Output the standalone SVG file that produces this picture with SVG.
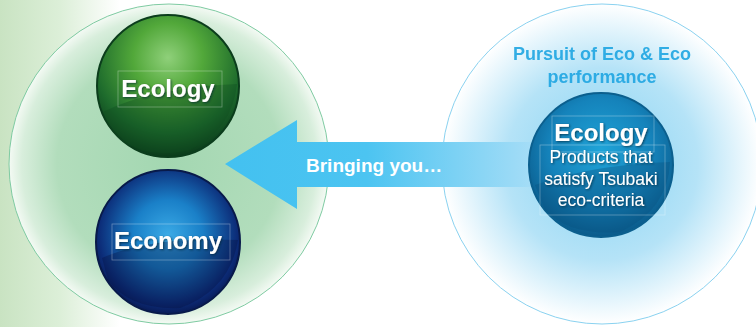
<svg xmlns="http://www.w3.org/2000/svg" width="756" height="327" viewBox="0 0 756 327">
<defs>
<linearGradient id="bg" x1="0" y1="0" x2="1" y2="0">
<stop offset="0" stop-color="#c9e3c2"/>
<stop offset="0.2" stop-color="#dcefd8"/>
<stop offset="0.4" stop-color="#ffffff"/>
</linearGradient>
<radialGradient id="leftBig" cx="0.5" cy="0.5" r="0.5">
<stop offset="0" stop-color="#a3d7b1"/>
<stop offset="0.7" stop-color="#b2ddbc"/>
<stop offset="0.92" stop-color="#d8eedc"/>
<stop offset="1" stop-color="#f4faf4"/>
</radialGradient>
<radialGradient id="rightBig" cx="0.5" cy="0.5" r="0.5">
<stop offset="0" stop-color="#86d3f3"/>
<stop offset="0.6" stop-color="#b5e3f7"/>
<stop offset="1" stop-color="#ffffff"/>
</radialGradient>
<radialGradient id="greenS" cx="0.5" cy="0.3" r="0.7">
<stop offset="0" stop-color="#8fd07a"/>
<stop offset="0.35" stop-color="#52a83a"/>
<stop offset="0.75" stop-color="#1d6a2c"/>
<stop offset="1" stop-color="#0a3a1a"/>
</radialGradient>
<radialGradient id="blueS" cx="0.5" cy="0.45" r="0.6">
<stop offset="0" stop-color="#3aaae6"/>
<stop offset="0.4" stop-color="#1a80c8"/>
<stop offset="0.8" stop-color="#0c2c78"/>
<stop offset="1" stop-color="#061040"/>
</radialGradient>
<radialGradient id="tealS" cx="0.5" cy="0.4" r="0.6">
<stop offset="0" stop-color="#1fa4d8"/>
<stop offset="0.6" stop-color="#1583bb"/>
<stop offset="1" stop-color="#0a5a8a"/>
</radialGradient>
<linearGradient id="arrowG" x1="225" y1="0" x2="540" y2="0" gradientUnits="userSpaceOnUse">
<stop offset="0" stop-color="#43c1f0"/>
<stop offset="0.45" stop-color="#4cc4f1"/>
<stop offset="1" stop-color="#a9def7"/>
</linearGradient>
<filter id="ts" x="-10%" y="-20%" width="120%" height="140%">
<feDropShadow dx="1" dy="1" stdDeviation="0.8" flood-color="#002030" flood-opacity="0.7"/>
</filter>
</defs>
<style>
.lbl{font-family:"Liberation Sans",Arial,sans-serif;font-weight:bold;fill:#ffffff;text-anchor:middle;font-size:24px}
.sub{font-family:"Liberation Sans",Arial,sans-serif;fill:#ffffff;text-anchor:middle;font-size:17.5px}
.box{fill:none;stroke:#ffffff;stroke-opacity:0.35;stroke-width:0.8}
.top{font-family:"Liberation Sans",Arial,sans-serif;font-size:18px;font-weight:bold;fill:#1fa6e2;text-anchor:middle;opacity:0.9}
</style>
<rect x="0" y="0" width="756" height="327" fill="#ffffff"/>
<rect x="0" y="0" width="300" height="327" fill="url(#bg)"/>

<g id="left-circle">
<circle cx="169" cy="164" r="160" fill="url(#leftBig)" stroke="#7fcba2" stroke-width="1"/>
</g>
<g id="right-circle">
<circle cx="602" cy="164" r="160" fill="url(#rightBig)" stroke="#8ad2f0" stroke-width="1"/>
<text class="top" x="602" y="60">Pursuit of Eco &amp; Eco</text>
<text class="top" x="602" y="83">performance</text>
</g>

<g id="connectors">
<polygon points="225,164 297,120 297,142 540,142 540,187 297,187 297,209" fill="url(#arrowG)"/>
<text x="306" y="172" font-family="Liberation Sans, Arial, sans-serif" font-size="19" font-weight="bold" fill="#ffffff">Bringing you…</text>
</g>

<g id="ecology-left">
<circle cx="168" cy="86" r="71" fill="url(#greenS)" stroke="#0b3d1c" stroke-width="2"/>
<path d="M103,112 Q150,88 237,84 Q232,130 190,150 Q150,160 120,140 Q106,126 103,112 Z" fill="#0f4a20" fill-opacity="0.35"/>
<rect class="box" x="118" y="71" width="104" height="36"/>
<text class="lbl" x="168" y="97" filter="url(#ts)">Ecology</text>
</g>

<g id="economy-left">
<circle cx="168" cy="242" r="72" fill="url(#blueS)" stroke="#081a4a" stroke-width="2"/>
<path d="M102,258 Q150,236 238,240 Q230,290 180,308 Q130,310 108,280 Z" fill="#061040" fill-opacity="0.35"/>
<rect class="box" x="112" y="224" width="118" height="36"/>
<text class="lbl" x="168" y="249" filter="url(#ts)">Economy</text>
</g>

<g id="ecology-right">
<circle cx="601" cy="165" r="72" fill="url(#tealS)" stroke="#0b5f8e" stroke-width="2"/>
<path d="M535,185 Q590,165 670,162 Q668,210 620,232 Q570,236 545,210 Z" fill="#08507e" fill-opacity="0.35"/>
<rect class="box" x="552" y="116" width="102" height="36"/>
<rect class="box" x="540" y="145" width="125" height="70"/>
<text class="lbl" x="601" y="141" filter="url(#ts)">Ecology</text>
<text class="sub" x="601" y="163" filter="url(#ts)">Products that</text>
<text class="sub" x="601" y="185" filter="url(#ts)">satisfy Tsubaki</text>
<text class="sub" x="601" y="206" filter="url(#ts)">eco-criteria</text>
</g>
</svg>
